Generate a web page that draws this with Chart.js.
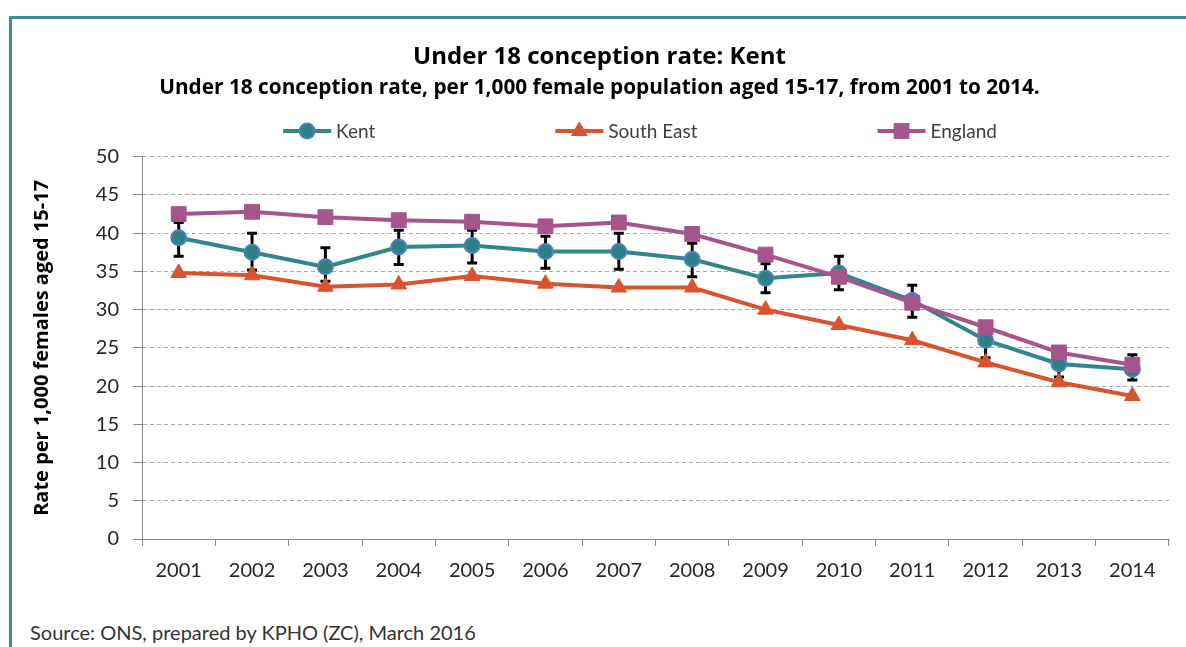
<!DOCTYPE html>
<html>
<head>
<meta charset="utf-8">
<script src="https://cdn.jsdelivr.net/npm/chart.js@4.4.1/dist/chart.umd.min.js"></script>
<style>
  html, body { margin: 0; padding: 0; background: #fff; overflow: hidden; }
  body { width: 1186px; height: 647px; position: relative; }
  #frame { position: absolute; left: 9px; top: 16px; width: 1300px; height: 700px;
           border-top: 3px solid #3f8c92; border-left: 3px solid #3f8c92; }
  #chart { position: absolute; left: 12px; top: 19px; }
  #source { position: absolute; left: 30px; top: 620px; font: 20px Lato, sans-serif; color: #333; }
</style>
</head>
<body>
<div id="frame"></div>
<canvas id="chart" width="1174" height="581"></canvas>
<div id="source">Source: ONS, prepared by KPHO (ZC), March 2016</div>
<script>
// data
const years = ['2001', '2002', '2003', '2004', '2005', '2006', '2007', '2008', '2009', '2010', '2011', '2012', '2013', '2014'];
const kent = [39.4, 37.5, 35.6, 38.2, 38.4, 37.6, 37.6, 36.6, 34.1, 34.8, 31.2, 26.0, 22.9, 22.2];
const kentLower = [37.0, 35.2, 33.7, 35.9, 36.1, 35.4, 35.3, 34.3, 32.2, 32.6, 29.0, 23.7, 21.2, 20.8];
const kentUpper = [41.4, 40.0, 38.1, 40.4, 40.4, 39.6, 40.0, 38.7, 36.0, 37.0, 33.2, 28.3, 24.6, 24.1];
const southEast = [34.8, 34.5, 33.0, 33.3, 34.4, 33.4, 32.9, 32.9, 30.0, 28.0, 26.0, 23.1, 20.5, 18.7];
const england = [42.5, 42.8, 42.1, 41.7, 41.5, 40.9, 41.4, 39.9, 37.2, 34.3, 30.9, 27.7, 24.4, 22.8];

const FONT = 'Lato, "Open Sans", sans-serif';
const BOLD_FONT = '"Open Sans", Lato, sans-serif';
const gridColor = '#a6a6a6';
const axisColor = '#8c8c8c';
const tickColor = '#262626';

// Kent confidence intervals, drawn under the series
const errorBars = {
    id: 'errorBars',
    beforeDatasetsDraw(chart) {
        const { ctx, scales: { x, y } } = chart;
        ctx.save();
        ctx.strokeStyle = '#000';
        ctx.lineWidth = 3;
        kentLower.forEach((lo, i) => {
            const px = x.getPixelForValue(i);
            const top = y.getPixelForValue(kentUpper[i]);
            const bot = y.getPixelForValue(lo);
            ctx.beginPath();
            ctx.moveTo(px, top); ctx.lineTo(px, bot);
            ctx.moveTo(px - 5, top); ctx.lineTo(px + 5, top);
            ctx.moveTo(px - 5, bot); ctx.lineTo(px + 5, bot);
            ctx.stroke();
        });
        ctx.restore();
    }
};

// excel style legend: line with marker, wide gaps
const lineLegend = {
    id: 'lineLegend',
    afterDraw(chart) {
        const ctx = chart.ctx;
        const sets = chart.data.datasets;
        const lineLen = 48, textGap = 5, itemGap = 180, cy = 112, centerX = 628;
        ctx.save();
        ctx.font = '19px ' + FONT;
        const widths = sets.map(d => lineLen + textGap + ctx.measureText(d.label).width);
        const total = widths.reduce((a, b) => a + b, 0) + itemGap * (sets.length - 1);
        let x = centerX - total / 2;
        sets.forEach((d, i) => {
            ctx.strokeStyle = d.borderColor;
            ctx.lineWidth = 4;
            ctx.beginPath();
            ctx.moveTo(x, cy); ctx.lineTo(x + lineLen, cy);
            ctx.stroke();
            drawMarker(ctx, d, x + lineLen / 2, cy);
            ctx.fillStyle = '#404040';
            ctx.textBaseline = 'middle';
            ctx.fillText(d.label, x + lineLen + textGap, cy + 1);
            x += widths[i] + itemGap;
        });
        ctx.restore();
    }
};

function drawMarker(ctx, d, x, y) {
    const r = d.pointRadius;
    ctx.fillStyle = d.pointBackgroundColor;
    ctx.strokeStyle = d.pointBorderColor;
    ctx.lineWidth = d.pointBorderWidth;
    ctx.beginPath();
    if (d.pointStyle === 'circle') {
        ctx.arc(x, y, r, 0, Math.PI * 2);
    } else if (d.pointStyle === 'triangle') {
        ctx.moveTo(x, y - r);
        ctx.lineTo(x + r * 0.866, y + r / 2);
        ctx.lineTo(x - r * 0.866, y + r / 2);
        ctx.closePath();
    } else {
        const s = r * Math.SQRT1_2;
        ctx.rect(x - s, y - s, 2 * s, 2 * s);
    }
    ctx.fill();
    ctx.stroke();
}

const ctx = document.getElementById('chart');
new Chart(ctx, {
    type: 'line',
    data: {
        labels: years,
        datasets: [
            {
                label: 'Kent',
                data: kent,
                borderColor: '#2f878b',
                borderWidth: 4,
                pointStyle: 'circle',
                pointRadius: 7.5,
                pointHoverRadius: 7.5,
                pointBackgroundColor: '#2b8285',
                pointBorderColor: '#4f81bd',
                pointBorderWidth: 2,
                order: 1,
            },
            {
                label: 'South East',
                data: southEast,
                borderColor: '#d9532c',
                borderWidth: 4,
                pointStyle: 'triangle',
                pointRadius: 9,
                pointHoverRadius: 9,
                pointBackgroundColor: '#d9532c',
                pointBorderColor: '#d9532c',
                pointBorderWidth: 1,
                order: 2,
            },
            {
                label: 'England',
                data: england,
                borderColor: '#a6558c',
                borderWidth: 4,
                pointStyle: 'rect',
                pointRadius: 10.5,
                pointHoverRadius: 10.5,
                pointBackgroundColor: '#a6558c',
                pointBorderColor: '#a6558c',
                pointBorderWidth: 1,
                order: 0,
            }
        ]
    },
    options: {
        responsive: false,
        animation: false,
        devicePixelRatio: 1,
        layout: {
            padding: { left: 18, right: 17, top: 0, bottom: 0 },
        },
        plugins: {
            legend: { display: false },
            tooltip: { enabled: false },
            title: {
                display: true,
                text: 'Under 18 conception rate: Kent',
                color: '#000',
                font: { family: BOLD_FONT, size: 24, weight: 'bold' },
                padding: { top: 24, bottom: 0 },
            },
            subtitle: {
                display: true,
                text: 'Under 18 conception rate, per 1,000 female population aged 15-17, from 2001 to 2014.',
                color: '#000',
                font: { family: BOLD_FONT, size: 20.8, weight: 'bold' },
                padding: { top: 4, bottom: 56 },
            },
        },
        scales: {
            x: {
                offset: true,
                grid: {
                    offset: true,
                    drawOnChartArea: false,
                    drawTicks: true,
                    tickLength: 7,
                    tickColor: axisColor,
                },
                border: { display: true, color: axisColor },
                ticks: {
                    color: tickColor,
                    font: { family: FONT, size: 20 },
                    padding: 13,
                    maxRotation: 0,
                },
                afterFit: s => { s.height = 61; },
            },
            y: {
                min: 0,
                max: 50,
                ticks: {
                    stepSize: 5,
                    color: tickColor,
                    font: { family: FONT, size: 20 },
                    padding: 14,
                },
                grid: {
                    color: gridColor,
                    tickLength: 9,
                    tickColor: axisColor,
                },
                border: { display: true, color: axisColor, dash: [4, 3] },
                title: {
                    display: true,
                    text: 'Rate per 1,000 females aged 15-17',
                    color: '#000',
                    font: { family: BOLD_FONT, size: 20, weight: 'bold' },
                    padding: { top: 0, bottom: 0 },
                },
                afterFit: s => { s.width = 112; },
            },
        },
    },
    plugins: [errorBars, lineLegend],
});
</script>
</body>
</html>
